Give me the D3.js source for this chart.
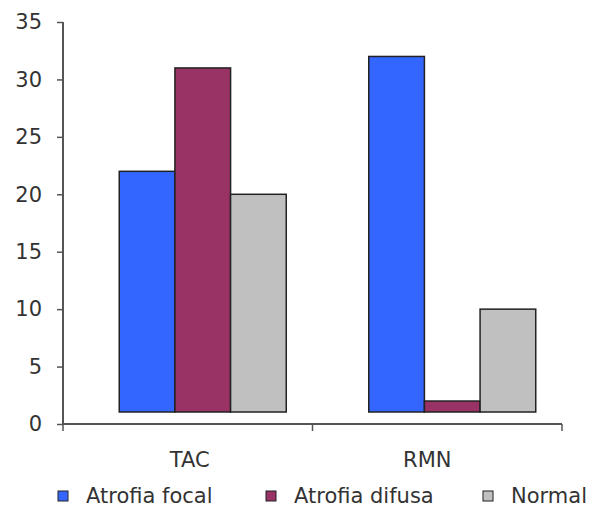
<!DOCTYPE html>
<html><head><meta charset="utf-8">
<script src="https://cdn.jsdelivr.net/npm/d3@7"></script>
<style>
body{margin:0;background:#fff;}
text{font-family:"DejaVu Sans",Verdana,sans-serif;fill:#333;}
</style></head>
<body><svg id="c" width="592" height="507"></svg>
<script>
const categories = ["TAC", "RMN"];
const seriesNames = ["Atrofia focal", "Atrofia difusa", "Normal"];
const atrofiaFocal = [22, 32];
const atrofiaDifusa = [31, 2];
const normal = [20, 10];
const yTicks = [0, 5, 10, 15, 20, 25, 30, 35];
const colors = ["#3366ff", "#993366", "#c0c0c0"];
const seriesValues = [atrofiaFocal, atrofiaDifusa, normal];

const svg = d3.select("#c");
const mLeft = 63, mRight = 562, mTop = 22, mBottom = 424;
const depthX = 15, depthY = 12;
const fs = 21;

const x0 = d3.scaleBand().domain(categories).range([mLeft, mRight]).padding(0);
const y = d3.scaleLinear().domain([0, 35]).range([mBottom, mTop]);
const groupW = 167;
const x1 = d3.scaleBand().domain(seriesNames).range([0, groupW]).padding(0);

// bars
categories.forEach((cat, ci) => {
  const gx = x0(cat) + (x0.bandwidth() - groupW) / 2 + depthX;
  seriesNames.forEach((s, si) => {
    const v = seriesValues[si][ci];
    svg.append("rect")
      .attr("x", gx + x1(s))
      .attr("y", y(v))
      .attr("width", x1.bandwidth())
      .attr("height", y(0) - depthY - y(v))
      .attr("fill", colors[si])
      .attr("stroke", "#222")
      .attr("stroke-width", 1.5);
  });
});

// y axis
const yAxis = d3.axisLeft(y).tickValues(yTicks).tickSize(6).tickPadding(15);
const ga = svg.append("g").attr("transform", `translate(${mLeft},0)`).call(yAxis);
ga.select(".domain").attr("stroke", "#555").attr("stroke-width", 2).attr("d", `M0,${mTop}V${mBottom}`);
ga.selectAll(".tick line").attr("stroke", "#555").attr("stroke-width", 1.5);
ga.selectAll(".tick text").attr("font-size", fs).attr("font-family", "DejaVu Sans").attr("fill", "#333");

// x axis
const xAxis = d3.axisBottom(x0).tickSize(0).tickPadding(28);
const gxa = svg.append("g").attr("transform", `translate(0,${mBottom})`).call(xAxis);
gxa.select(".domain").attr("stroke", "#555").attr("stroke-width", 2).attr("d", `M${mLeft},0H${mRight}`);
gxa.selectAll(".tick text").attr("font-size", fs).attr("font-family", "DejaVu Sans").attr("fill", "#333")
  .attr("dx", (d, i) => i === 1 ? -10 : 2);
const bounds = [x0(categories[0]), x0(categories[1]), x0(categories[1]) + x0.bandwidth()];
gxa.selectAll("line.bt").data(bounds).enter().append("line").attr("class", "bt")
  .attr("x1", d => d).attr("x2", d => d).attr("y1", 0).attr("y2", 7)
  .attr("stroke", "#555").attr("stroke-width", 1.5);

// legend
const legX = [58, 266, 483];
const legY = 496;
seriesNames.forEach((s, i) => {
  svg.append("rect").attr("x", legX[i]).attr("y", legY - 5).attr("width", 10).attr("height", 10)
    .attr("fill", colors[i]).attr("stroke", "#222").attr("stroke-width", 1);
  svg.append("text").attr("x", legX[i] + 28).attr("y", legY).attr("dy", "0.35em")
    .attr("font-size", fs).text(s);
});
</script></body></html>
